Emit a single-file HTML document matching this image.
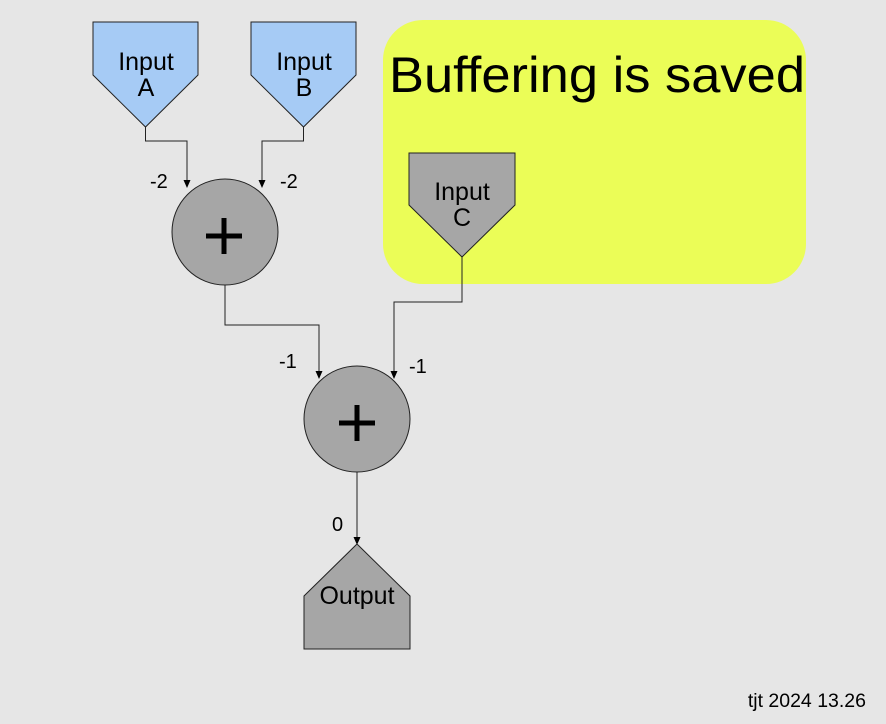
<!DOCTYPE html>
<html><head><style>html,body{margin:0;padding:0;background:#e6e6e6;}svg{display:block}</style></head>
<body>
<svg width="886" height="724" viewBox="0 0 886 724" xmlns="http://www.w3.org/2000/svg" font-family="Liberation Sans, sans-serif">
<rect width="886" height="724" fill="#e6e6e6"/>
<defs><marker id="ar" markerWidth="8" markerHeight="8" refX="7" refY="4" orient="auto" markerUnits="userSpaceOnUse"><path d="M0,0.5 L8,4 L0,7.5 z" fill="#000"/></marker></defs>
<rect x="383" y="20" width="423" height="264" rx="40" fill="#ebfd57"/>
<text x="389" y="92" font-size="50" textLength="416" lengthAdjust="spacingAndGlyphs">Buffering is saved</text>
<g stroke="#222" stroke-width="1" fill="#a6cbf5">
<path d="M93,22 H198 V75 L145.5,127 L93,75 Z"/>
<path d="M251,22 H356 V75 L303.5,127 L251,75 Z"/>
</g>
<path d="M409,153 H515 V205 L462,257 L409,205 Z" fill="#a6a6a6" stroke="#222"/>
<g stroke="#222" fill="none" stroke-width="1">
<path d="M145.5,127 V141 H187 V187" marker-end="url(#ar)"/>
<path d="M303.5,127 V141 H262 V187" marker-end="url(#ar)"/>
<path d="M225,285 V325 H319 V378" marker-end="url(#ar)"/>
<path d="M462,257 V302 H394 V378" marker-end="url(#ar)"/>
<path d="M357,472 V544" marker-end="url(#ar)"/>
</g>
<circle cx="225" cy="232" r="53" fill="#a6a6a6" stroke="#222"/>
<circle cx="357" cy="419" r="53" fill="#a6a6a6" stroke="#222"/>
<g stroke="#000" stroke-width="5"><path d="M206,236 H242 M224,218 V254"/><path d="M339,423 H375 M357,405 V441"/></g>
<path d="M357,544 L410,596 V649 H304 V596 Z" fill="#a6a6a6" stroke="#222"/>
<g font-size="25" text-anchor="middle" fill="#000">
<text x="146" y="70">Input</text><text x="146" y="96">A</text>
<text x="304" y="70">Input</text><text x="304" y="96">B</text>
<text x="462" y="200">Input</text><text x="462" y="226">C</text>
<text x="357" y="604">Output</text>
</g>
<g font-size="20" fill="#000">
<text x="150" y="188">-2</text><text x="280" y="188">-2</text>
<text x="279" y="368">-1</text><text x="409" y="373">-1</text>
<text x="332" y="531">0</text>
</g>
<text x="866" y="707" font-size="19.5" text-anchor="end">tjt 2024 13.26</text>
</svg>
</body></html>
